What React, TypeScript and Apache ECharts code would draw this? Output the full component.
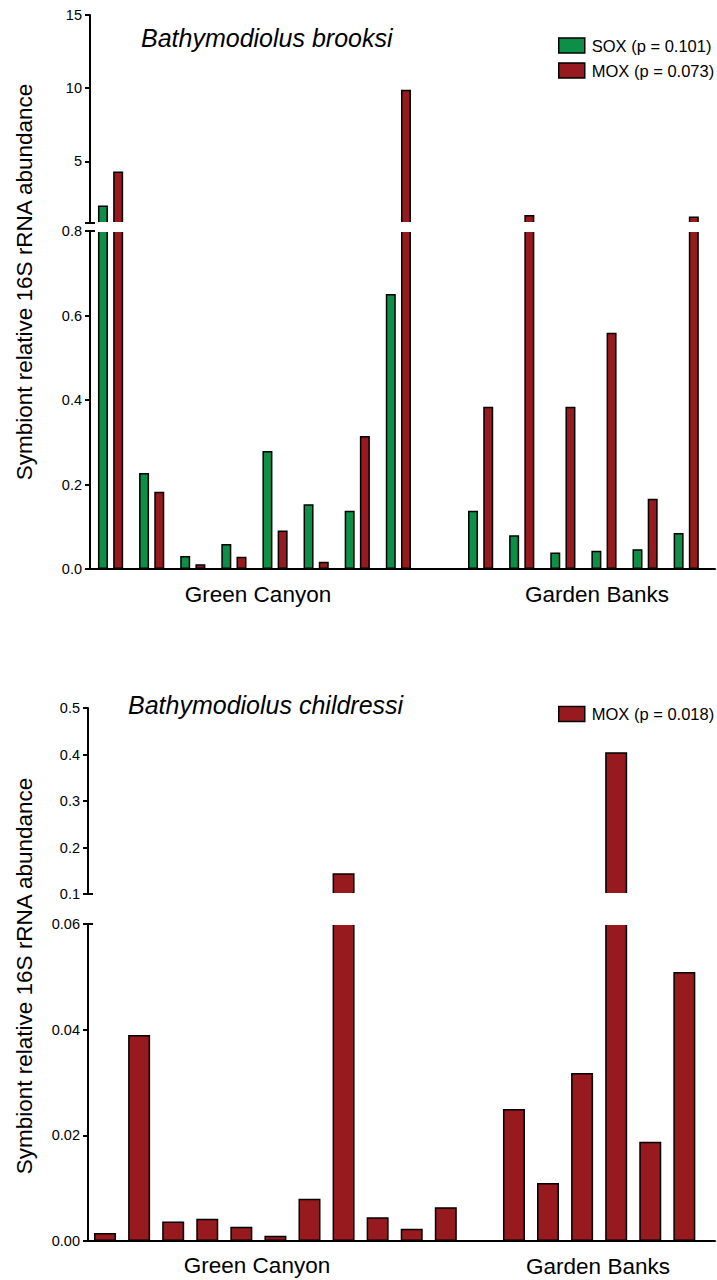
import React, { useEffect, useRef } from 'react';
import * as echarts from 'echarts';

// ---------- data ----------
const siteLabels = ['Green Canyon', 'Garden Banks'];
const brooksiTitle = 'Bathymodiolus brooksi';
const childressiTitle = 'Bathymodiolus childressi';
const yTitle = 'Symbiont relative 16S rRNA abundance';

const soxName = 'SOX (p = 0.101)';
const moxBrooksiName = 'MOX (p = 0.073)';
const moxChildressiName = 'MOX (p = 0.018)';

// B. brooksi: 15 slots (slot 9 empty/zero)
const brooksiSox = [2.0, 0.227, 0.031, 0.059, 0.279, 0.153, 0.138, 0.651, 0, 0.138, 0.08, 0.039, 0.043, 0.047, 0.085];
const brooksiMox = [4.32, 0.183, 0.011, 0.029, 0.091, 0.017, 0.315, 9.9, 0, 0.384, 1.34, 0.384, 0.559, 0.166, 1.24];

// B. childressi: 18 slots (slot 12 empty)
const childressiMox = [0.0015, 0.039, 0.0037, 0.0042, 0.0027, 0.001, 0.008, 0.1445, 0.0045, 0.0023, 0.0064, null, 0.025, 0.011, 0.0318, 0.405, 0.0188, 0.0509];

const brooksiUpperTicks = [5, 10, 15];

// ---------- layout ----------
const FONT = '"Liberation Sans", Arial, Helvetica, sans-serif';
const GREEN = '#0e8f48';
const RED = '#971a1e';
const T = { left: 90, right: 715, upTop: 15, upBottom: 223, lowTop: 231, lowBottom: 569 };
const B = { left: 88, right: 715, upTop: 708, upBottom: 894, lowTop: 924, lowBottom: 1241 };

const pairs = (arr: (number | null)[]) =>
  arr.map((v, i) => (v === null ? null : [i, v])).filter((d) => d !== null);

export default function App() {
  const ref = useRef<HTMLDivElement>(null);

  useEffect(() => {
    if (!ref.current) return;
    const chart = echarts.init(ref.current, undefined, { renderer: 'svg' });

    const axisLine = { show: true, onZero: false, lineStyle: { color: '#000', width: 2 } };
    const tick = { show: true, length: 5, lineStyle: { color: '#000', width: 2 } };
    const label = { color: '#000', fontSize: 14.5, fontFamily: FONT, margin: 8 };

    const xBase = (gridIndex: number, max: number, showLine: boolean) => ({
      type: 'value',
      gridIndex,
      min: -0.5,
      max,
      axisLine: showLine ? { show: true, onZero: false, lineStyle: { color: '#000', width: 2 } } : { show: false },
      axisTick: { show: false },
      axisLabel: { show: false },
      splitLine: { show: false },
    });

    const barStyle = (color: string) => ({ color, borderColor: '#000', borderWidth: 1.5 });

    const topBar = (name: string, data: number[], color: string, idx: number) => ({
      type: 'bar',
      name,
      xAxisIndex: idx,
      yAxisIndex: idx,
      data: pairs(data),
      barWidth: 10,
      barGap: '52%',
      clip: true,
      itemStyle: barStyle(color),
      emphasis: { disabled: true },
    });

    const botBar = (idx: number) => ({
      type: 'bar',
      name: moxChildressiName,
      xAxisIndex: idx,
      yAxisIndex: idx,
      data: pairs(childressiMox),
      barWidth: 22,
      clip: true,
      itemStyle: barStyle(RED),
      emphasis: { disabled: true },
    });

    const txt = (text: string, x: number, y: number, size: number, extra: any = {}) => ({
      type: 'text',
      x,
      y,
      z: 120,
      ...extra,
      style: {
        text,
        fill: '#000',
        fontSize: size,
        fontFamily: FONT,
        align: extra.align || 'center',
        verticalAlign: 'middle',
        fontStyle: extra.fontStyle || 'normal',
      },
    });

    const cap = (x: number, y: number) => ({
      type: 'line',
      z: 130,
      shape: { x1: x - 5, y1: y, x2: x + 5, y2: y },
      style: { stroke: '#000', lineWidth: 2 },
    });

    const legendCommon = {
      orient: 'vertical',
      left: 553,
      itemWidth: 26,
      itemHeight: 15,
      itemGap: 8,
      icon: 'rect',
      selectedMode: false,
      itemStyle: { borderColor: '#000', borderWidth: 1.5 },
      textStyle: { color: '#000', fontSize: 16.5, fontFamily: FONT, padding: [0, 0, 0, 2] },
    };

    const option: any = {
      animation: false,
      backgroundColor: '#fff',
      grid: [
        { left: T.left, top: T.upTop, width: T.right - T.left, height: T.upBottom - T.upTop },
        { left: T.left, top: T.lowTop, width: T.right - T.left, height: T.lowBottom - T.lowTop },
        { left: B.left, top: B.upTop, width: B.right - B.left, height: B.upBottom - B.upTop },
        { left: B.left, top: B.lowTop, width: B.right - B.left, height: B.lowBottom - B.lowTop },
      ],
      xAxis: [xBase(0, 14.7, false), xBase(1, 14.7, true), xBase(2, 17.9, false), xBase(3, 17.9, true)],
      yAxis: [
        {
          type: 'value', gridIndex: 0, min: 0.8, max: 15,
          axisLine, splitLine: { show: false },
          axisTick: { ...tick, customValues: brooksiUpperTicks },
          axisLabel: { ...label, customValues: brooksiUpperTicks, formatter: (v: number) => String(v) },
        },
        {
          type: 'value', gridIndex: 1, min: 0, max: 0.8, interval: 0.2,
          axisLine, splitLine: { show: false }, axisTick: tick,
          axisLabel: { ...label, formatter: (v: number) => v.toFixed(1) },
        },
        {
          type: 'value', gridIndex: 2, min: 0.1, max: 0.5, interval: 0.1,
          axisLine, splitLine: { show: false }, axisTick: tick,
          axisLabel: { ...label, formatter: (v: number) => v.toFixed(1) },
        },
        {
          type: 'value', gridIndex: 3, min: 0, max: 0.06, interval: 0.02,
          axisLine, splitLine: { show: false }, axisTick: tick,
          axisLabel: { ...label, formatter: (v: number) => v.toFixed(2) },
        },
      ],
      legend: [
        { ...legendCommon, top: 32, data: [soxName, moxBrooksiName] },
        { ...legendCommon, top: 700.5, data: [moxChildressiName] },
      ],
      series: [
        topBar(soxName, brooksiSox, GREEN, 0),
        topBar(moxBrooksiName, brooksiMox, RED, 0),
        topBar(soxName, brooksiSox, GREEN, 1),
        topBar(moxBrooksiName, brooksiMox, RED, 1),
        botBar(2),
        botBar(3),
      ],
      graphic: [
        // gaps of the broken axes
        { type: 'rect', z: 110, shape: { x: T.left + 1.5, y: T.upBottom - 1, width: 717, height: T.lowTop - T.upBottom + 2 }, style: { fill: '#fff' } },
        { type: 'rect', z: 110, shape: { x: B.left + 1.5, y: B.upBottom - 1, width: 717, height: B.lowTop - B.upBottom + 2 }, style: { fill: '#fff' } },
        cap(T.left, T.upBottom),
        cap(T.left, T.lowTop),
        cap(B.left, B.upBottom),
        cap(B.left, B.lowTop),
        txt(brooksiTitle, 141, 38, 25, { align: 'left', fontStyle: 'italic' }),
        txt(childressiTitle, 128, 705, 25, { align: 'left', fontStyle: 'italic' }),
        txt(siteLabels[0], 258, 594, 22.5),
        txt(siteLabels[1], 597, 594, 22.5),
        txt(siteLabels[0], 257, 1265, 22.5),
        txt(siteLabels[1], 598, 1266, 22.5),
        txt(yTitle, 24, 282, 22.5, { rotation: Math.PI / 2 }),
        txt(yTitle, 24, 976, 22.5, { rotation: Math.PI / 2 }),
      ],
    };

    chart.setOption(option);
    return () => chart.dispose();
  }, []);

  return (
    <div
      ref={ref}
      style={{ position: 'absolute', left: 0, top: 0, width: 717, height: 1280, background: '#fff' }}
    />
  );
}
